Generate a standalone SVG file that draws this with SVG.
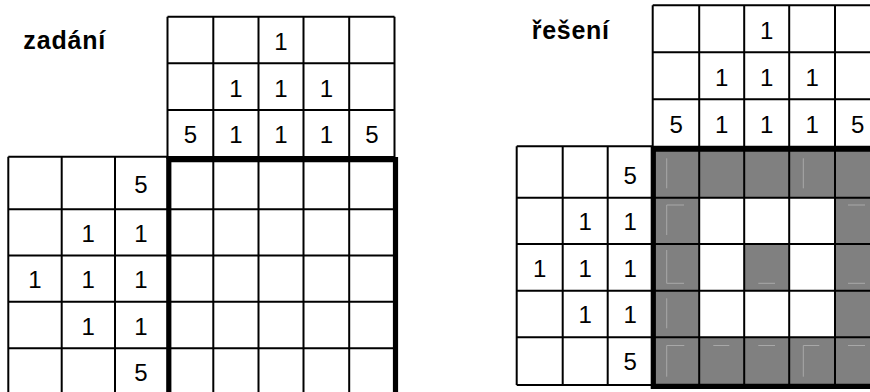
<svg xmlns="http://www.w3.org/2000/svg" width="870" height="392" viewBox="0 0 870 392">
<style>
.bg{fill:#fff}
.thin{fill:none;stroke:#000;stroke-width:2}
.thick{fill:none;stroke:#000;stroke-width:5.2;stroke-linejoin:miter}
.num{font-family:"Liberation Sans",Arial,sans-serif;font-size:24px;text-anchor:middle;fill:#000}
.title{font-family:"Liberation Sans",Arial,sans-serif;font-size:25px;font-weight:bold;fill:#000}
.fill{fill:#808080}
.faint{fill:none;stroke:#a8a8a8;stroke-width:1}
</style>
<rect class="bg" x="0" y="0" width="870" height="392"/>

<g id="zadani">
  <text class="title" x="23.3" y="49.3" textLength="82" lengthAdjust="spacing">zadání</text>
  <g id="zadani-grid">
    <path class="thin" d="M167.5 16.7V159 M213.3 16.7V395 M258.5 16.7V395 M303.5 16.7V395 M349.2 16.7V395 M394.5 16.7V159
      M167.5 16.7H394.5 M167.5 63.3H394.5 M167.5 110H394.5 M167.5 157H394.5
      M8.3 156.7V395 M61.7 156.7V395 M115 156.7V395
      M8.3 156.7H168 M8.3 209.3H394 M8.3 255.5H394 M8.3 301.7H394 M8.3 348.3H394"/>
    <path class="thick" d="M168.8 400V159.7H395.5V400"/>
  </g>
  <g id="zadani-columns">
    <text class="num" x="281" y="49.8">1</text>
    <text class="num" x="235.9" y="96.5">1</text>
    <text class="num" x="281" y="96.5">1</text>
    <text class="num" x="326.4" y="96.5">1</text>
    <text class="num" x="190.4" y="143.3">5</text>
    <text class="num" x="235.9" y="143.3">1</text>
    <text class="num" x="281" y="143.3">1</text>
    <text class="num" x="326.4" y="143.3">1</text>
    <text class="num" x="371.9" y="143.3">5</text>
  </g>
  <g id="zadani-rows">
    <text class="num" x="141" y="193.3">5</text>
    <text class="num" x="88.3" y="241.7">1</text>
    <text class="num" x="141" y="241.7">1</text>
    <text class="num" x="35" y="288">1</text>
    <text class="num" x="88.3" y="288">1</text>
    <text class="num" x="141" y="288">1</text>
    <text class="num" x="88.3" y="334.5">1</text>
    <text class="num" x="141" y="334.5">1</text>
    <text class="num" x="141" y="381">5</text>
  </g>
</g>

<g id="reseni">
  <text class="title" x="531.7" y="39.3" textLength="77.3" lengthAdjust="spacing">řešení</text>
  <g id="reseni-fill">
    <rect class="fill" x="653.3" y="149.2" width="225" height="48.5"/>
    <rect class="fill" x="653.3" y="197.7" width="45.9" height="139.6"/>
    <rect class="fill" x="835" y="197.7" width="45" height="139.6"/>
    <rect class="fill" x="744.2" y="244" width="45" height="46.7"/>
    <rect class="fill" x="653.3" y="337.3" width="225" height="49"/>
  </g>
  <path class="faint" d="M666.7 158.3V188.3 M803.3 158.3V188.3
    M684 205H666.7V235 M848 205H865
    M666.7 250V283.3H684 M758.3 283.3H775 M848 283.3H865
    M666.7 298.3V328.3
    M684.3 345.5H666.7V376.7 M713.3 345.5H729.3 M758.3 345.5H775 M819.3 345.5H803.3V376.7 M848 345.5H865"/>
  <g id="reseni-grid">
    <path class="thin" d="M652.7 5.3V149 M699.2 5.3V386 M744.2 5.3V386 M789.2 5.3V386 M835 5.3V386
      M652.7 5.3H875 M652.7 52.3H875 M652.7 99.3H875 M652.7 146.7H875
      M516.7 146.2V385 M562.7 146.2V385 M607.7 146.2V385
      M516.7 146.2H653 M516.7 197.7H875 M516.7 244H875 M516.7 290.7H875 M516.7 337.3H875 M516.7 385H653"/>
    <path class="thick" d="M875 149.2H653.3V386.3H875"/>
  </g>
  <g id="reseni-columns">
    <text class="num" x="766.7" y="39.3">1</text>
    <text class="num" x="721.7" y="86.2">1</text>
    <text class="num" x="766.7" y="86.2">1</text>
    <text class="num" x="812.1" y="86.2">1</text>
    <text class="num" x="676.2" y="133">5</text>
    <text class="num" x="721.7" y="133">1</text>
    <text class="num" x="766.7" y="133">1</text>
    <text class="num" x="812.1" y="133">1</text>
    <text class="num" x="857.8" y="133">5</text>
  </g>
  <g id="reseni-rows">
    <text class="num" x="630.2" y="183.5">5</text>
    <text class="num" x="585.2" y="230">1</text>
    <text class="num" x="630.2" y="230">1</text>
    <text class="num" x="539.7" y="276.5">1</text>
    <text class="num" x="585.2" y="276.5">1</text>
    <text class="num" x="630.2" y="276.5">1</text>
    <text class="num" x="585.2" y="323">1</text>
    <text class="num" x="630.2" y="323">1</text>
    <text class="num" x="630.2" y="369.5">5</text>
  </g>
</g>
</svg>
